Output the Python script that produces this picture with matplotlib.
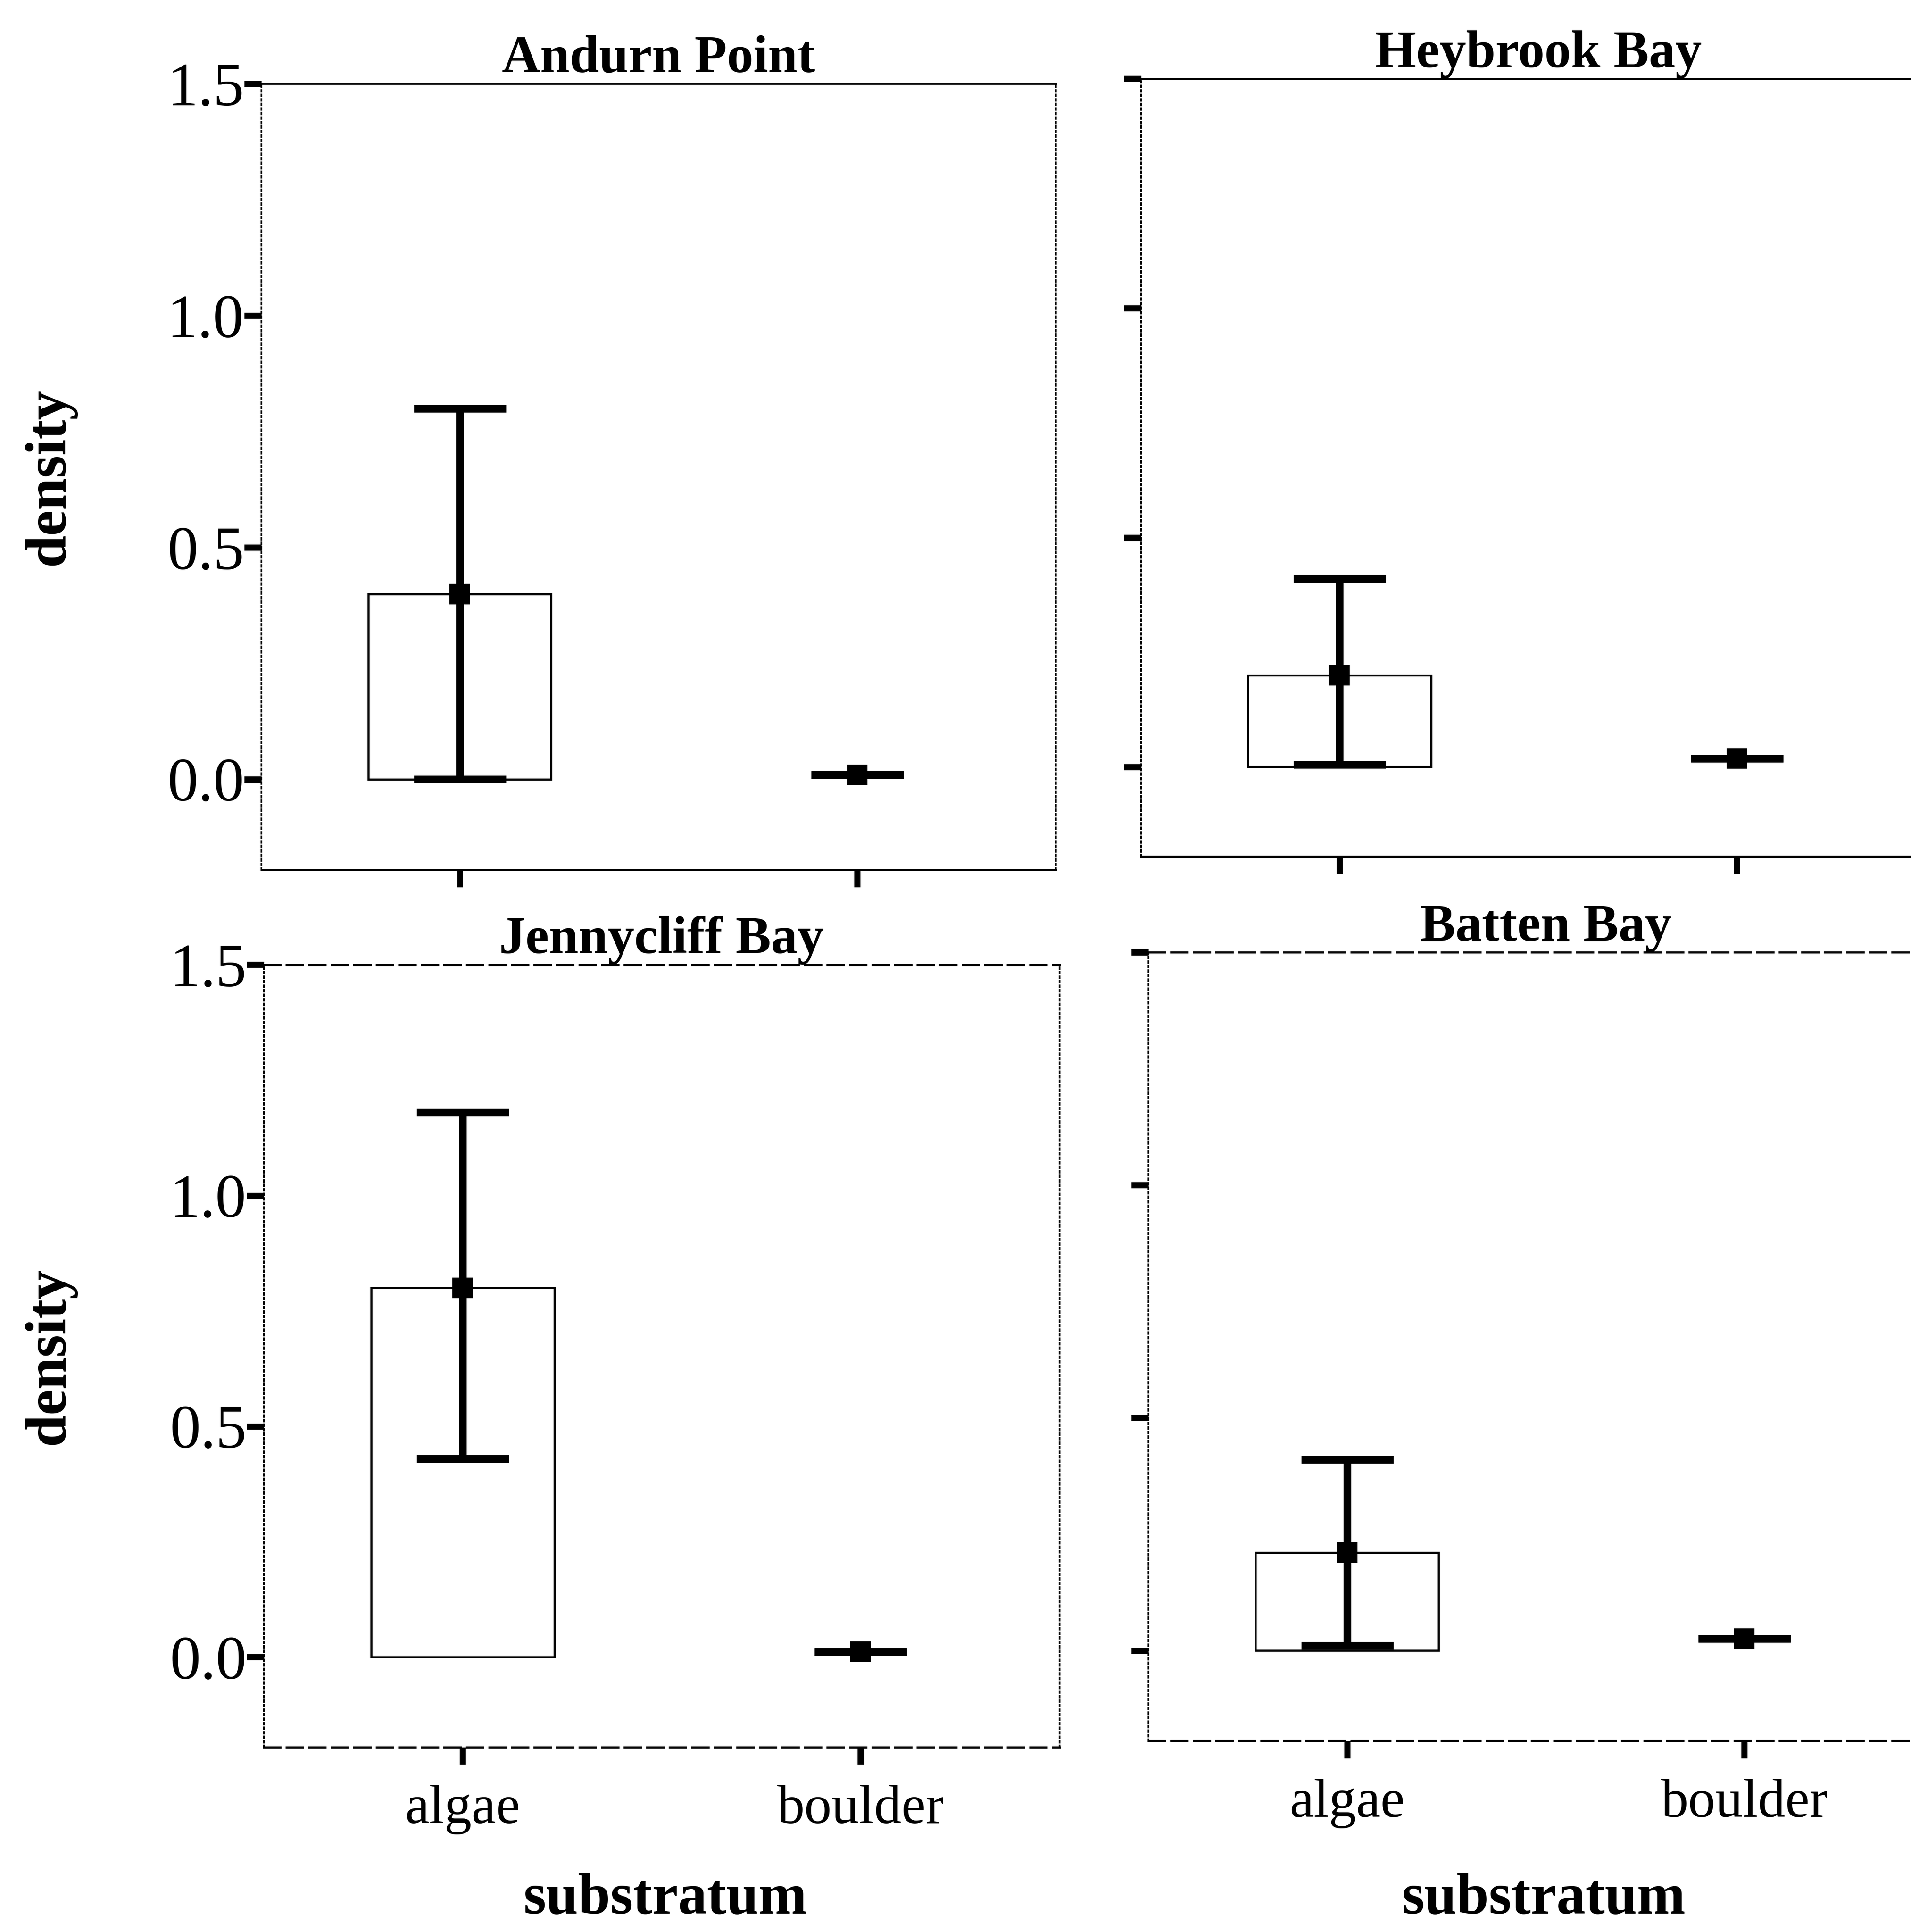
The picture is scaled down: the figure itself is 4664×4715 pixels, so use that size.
import matplotlib
matplotlib.use("Agg")
import matplotlib.pyplot as plt
import numpy as np

plt.rcParams['font.family'] = ['Liberation Serif', 'DejaVu Serif']

# data
sites = ["Andurn Point", "Heybrook Bay", "Jennycliff Bay", "Batten Bay"]
substrata = ["algae", "boulder"]
algae_mean = [0.40, 0.20, 0.80, 0.21]
algae_lo = [0.00, 0.005, 0.43, 0.01]
algae_hi = [0.80, 0.41, 1.18, 0.41]
boulder_mean = [0.010, 0.018, 0.012, 0.025]
boulder_lo = [0.010, 0.018, 0.012, 0.025]
boulder_hi = [0.010, 0.018, 0.012, 0.025]
yticks = [0.0, 0.5, 1.0, 1.5]

W, H = 4664, 4715
fig = plt.figure(figsize=(W / 300, H / 300), dpi=300)

# panel boxes in the (shrunk) reference: left, right, top, bottom pixels
sw, sh = 1551, 1568
boxes = [(212, 857, 68, 706),
         (926, 1571, 64, 695),
         (214, 860, 783, 1418),
         (932, 1577, 773, 1413)]

for i, site in enumerate(sites):
    l, r, t, b = boxes[i]
    ax = fig.add_axes([l / sw, 1 - b / sh, (r - l) / sw, (b - t) / sh])
    x = np.arange(len(substrata))
    means = np.array([algae_mean[i], boulder_mean[i]])
    lo = np.array([algae_lo[i], boulder_lo[i]])
    hi = np.array([algae_hi[i], boulder_hi[i]])

    # the boulder bars are too flat to show an outline in the original
    ax.bar(x, means, width=0.46, facecolor='white', edgecolor=['black', 'none'],
           linewidth=1.2)
    ax.errorbar(x, means, yerr=[means - lo, hi - means], fmt='s', color='black',
                ms=11, elinewidth=4.5, capsize=27, capthick=4.5)

    ax.set_xlim(-0.5, 1.5)
    ax.set_ylim(-0.195, 1.5)
    ax.set_yticks(yticks)
    ax.set_xticks(x)
    ax.tick_params(axis='y', direction='out', length=10, width=3.6, pad=0,
                   labelsize=36, labelleft=(i % 2 == 0))
    ax.tick_params(axis='x', direction='out', length=10, width=3.6, pad=12,
                   labelsize=32, labelbottom=(i >= 2))
    ax.set_yticklabels(["%.1f" % v for v in yticks])
    ax.set_xticklabels(substrata)

    for s in ('left', 'right'):
        ax.spines[s].set_linestyle(':')
        ax.spines[s].set_linewidth(1.0)
    for s in ('top', 'bottom'):
        ax.spines[s].set_linewidth(1.2)
        if i >= 2:
            ax.spines[s].set_linestyle((0, (8, 3)))

    ax.set_title(site, fontsize=31, fontweight='bold', pad=4)

# shared axis labels
for yc in [(68 + 706) / 2, (783 + 1418) / 2]:
    fig.text(40 / sw, 1 - yc / sh, "density", rotation=90, ha='center', va='center',
             fontsize=34, fontweight='bold')
for xc in [540, 1253]:
    fig.text(xc / sw, 5 / sh, "substratum", ha='center', va='bottom',
             fontsize=34, fontweight='bold')

fig.savefig("out.png", dpi=300, facecolor='white')
